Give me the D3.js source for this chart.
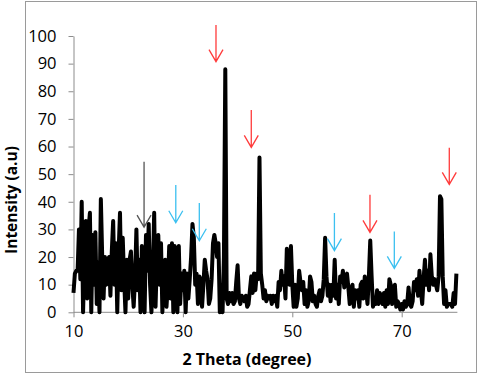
<!DOCTYPE html>
<html>
<head>
<meta charset="utf-8">
<script src="https://cdn.jsdelivr.net/npm/d3@7"></script>
<style>
body { margin: 0; background: #fff; }
text { font-family: "Open Sans", sans-serif; fill: #000; }
</style>
</head>
<body>
<script>
var width = 480, height = 376;

// scan grid (degrees 2 theta)
var startAngle = 10, stepAngle = 0.25;

// intensity, one value per step
var intensity = [
  7, 14, 15, 15,   30, 12, 40, 0,   20, 33, 5, 30,   36, 0, 28, 10,
  29, 3, 18, 0,    41, 20, 5, 20,   10, 18, 20, 6,   22, 33, 10, 25,
  0, 22, 36, 8,    27, 12, 0, 19,   5, 19, 22, 10,   2, 12, 30, 8,
  19, 0, 24, 12,   0, 28, 15, 32,   10, 0, 14, 36,   2, 20, 28, 10,
  25, 0, 15, 19,   2, 10, 24, 5,    25, 0, 24, 20,   0, 24, 3, 14,
  8, 15, 0, 14,    5, 12, 20, 32,   27, 10, 14, 3,   13, 12, 2, 10,
  19, 15, 12, 3,   5, 12, 25, 28,   25, 20, 25, 0,   5, 0, 20, 88,
  5, 3, 7, 4,      7, 3, 4, 11,     17, 5, 3, 6,     5, 4, 6, 2,
  3, 8, 13, 7,     14, 8, 14, 12,   56, 14, 10, 5,   8, 4, 6, 5,
  6, 3, 6, 4,      6, 2, 11, 8,     15, 10, 13, 5,   23, 14, 10, 24,
  10, 2, 10, 2,    5, 15, 11, 8,    11, 3, 8, 2,     4, 13, 11, 4,
  6, 3, 2, 6,      8, 4, 6, 12,     27, 13, 6, 10,   4, 10, 6, 19,
  5, 10, 3, 13,    11, 15, 9, 11,   14, 9, 3, 8,     10, 2, 8, 5,
  8, 2, 10, 11,    5, 13, 8, 3,     13, 26, 13, 2,   4, 3, 8, 3,
  7, 5, 3, 7,      2, 8, 3, 12,     10, 3, 8, 10,    2, 4, 3, 1,
  3, 1, 4, 2,      3, 9, 3, 2,      4, 11, 8, 12,    6, 15, 8, 3,
  12, 19, 10, 15,  8, 21, 13, 10,   12, 10, 8, 13,   42, 41, 13, 3,
  8, 2, 3, 3,      3, 2, 7, 3,      14
];

var xTicks = [10, 30, 50, 70];
var yTicks = [0, 10, 20, 30, 40, 50, 60, 70, 80, 90, 100];

// peak markers: position (2 theta), intensity at tail and tip, phase
var arrowAngle = [22.9, 28.7, 33.0, 36.05, 42.5, 57.7, 64.2, 68.65, 78.7];
var arrowTop   = [54.5, 46.1, 39.6, 104, 73.2, 35.9, 42.5, 29.2, 59.6];
var arrowTip   = [30.8, 32.4, 25.9, 90.7, 59.7, 22.3, 28.9, 15.9, 46.3];
var arrowPhase = ["other", "blue", "blue", "red", "red", "blue", "red", "blue", "red"];

var phaseColor = d3.scaleOrdinal()
  .domain(["red", "blue", "other"])
  .range(["#ff3b3b", "#3cc0f0", "#555555"]);

var data = intensity.map(function (v, i) {
  return { angle: startAngle + i * stepAngle, value: v };
});

var svg = d3.select("body").append("svg")
  .attr("width", width)
  .attr("height", height);

// outer frame
svg.append("rect")
  .attr("x", 25.5).attr("y", 1.5)
  .attr("width", 451).attr("height", 371)
  .attr("fill", "none")
  .attr("stroke", "#9a9a9a");

var x = d3.scaleLinear().domain([10, 80]).range([73.5, 456.4]);
var y = d3.scaleLinear().domain([0, 100]).range([312.3, 36]);

var xAxis = svg.append("g")
  .attr("transform", "translate(0," + y(0) + ")")
  .call(d3.axisBottom(x).tickValues(xTicks).tickSize(5).tickPadding(8).tickSizeOuter(0));

var yAxis = svg.append("g")
  .attr("transform", "translate(" + x(10) + ",0)")
  .call(d3.axisLeft(y).tickValues(yTicks).tickSize(5).tickPadding(12).tickSizeOuter(0));

[xAxis, yAxis].forEach(function (g) {
  g.select(".domain").attr("stroke", "#8c8c8c");
  g.selectAll(".tick line").attr("stroke", "#8c8c8c");
  g.selectAll(".tick text")
    .style("font-family", "'Open Sans', sans-serif")
    .style("font-size", "16.5px")
    .attr("fill", "#000");
});
xAxis.select(".domain").attr("d", "M" + x(10) + ",0H" + (x(80) + 1));

var line = d3.line()
  .x(function (d) { return x(d.angle); })
  .y(function (d) { return y(d.value); });

svg.append("path")
  .datum(data)
  .attr("d", line)
  .attr("fill", "none")
  .attr("stroke", "#000")
  .attr("stroke-width", 4)
  .attr("stroke-linejoin", "round");

// arrows
var headW = 7, headH = 12;
svg.append("g").selectAll("path")
  .data(arrowAngle.map(function (a, i) {
    return { angle: a, top: arrowTop[i], tip: arrowTip[i], phase: arrowPhase[i] };
  }))
  .enter().append("path")
  .attr("d", function (d) {
    var ax = x(d.angle), ay = y(d.tip);
    return "M" + ax + "," + y(d.top) + "V" + ay +
      "M" + (ax - headW) + "," + (ay - headH) + "L" + ax + "," + ay +
      "L" + (ax + headW) + "," + (ay - headH);
  })
  .attr("fill", "none")
  .attr("stroke", function (d) { return phaseColor(d.phase); })
  .attr("stroke-width", 1.3);

svg.append("text")
  .attr("x", 247).attr("y", 365)
  .attr("text-anchor", "middle")
  .style("font-size", "16px")
  .style("font-weight", "bold")
  .text("2 Theta (degree)");

svg.append("text")
  .attr("transform", "translate(17,200) rotate(-90)")
  .attr("text-anchor", "middle")
  .style("font-size", "15.5px")
  .style("font-weight", "bold")
  .text("Intensity (a.u)");
</script>
</body>
</html>
